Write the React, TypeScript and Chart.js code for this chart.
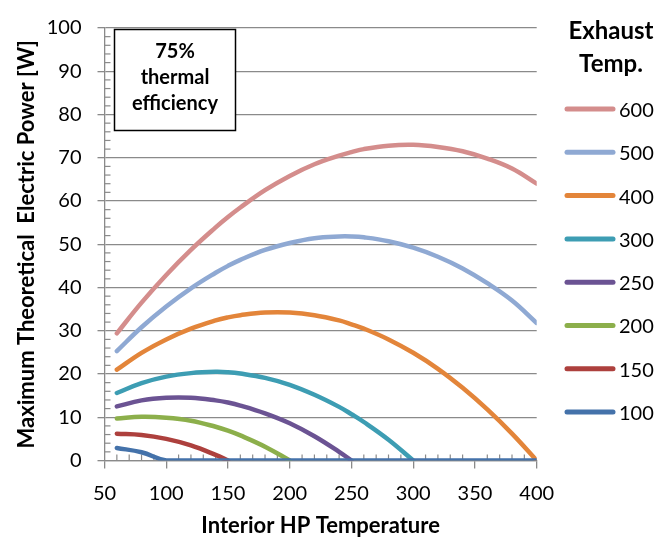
import React, { useEffect, useRef } from "react";
import { Chart, registerables } from "chart.js";

Chart.register(...registerables);

// Interior HP temperature (x) sample points
const temperatures = [60, 80, 100, 120, 140, 150, 160, 180, 200, 220, 240, 250, 260, 280, 300, 320, 340, 360, 380, 400];

// Maximum theoretical electric power [W] per exhaust temperature
const exhaust600 = [29.4, 36.5, 42.9, 48.7, 53.9, 56.3, 58.5, 62.5, 65.8, 68.5, 70.5, 71.3, 72.0, 72.8, 73.0, 72.5, 71.5, 69.8, 67.5, 64.0];
const exhaust500 = [25.3, 30.8, 35.6, 39.8, 43.4, 45.0, 46.4, 48.7, 50.3, 51.4, 51.8, 51.8, 51.6, 50.7, 49.2, 47.1, 44.4, 41.0, 37.0, 31.8];
const exhaust400 = [21.0, 24.9, 28.0, 30.5, 32.4, 33.1, 33.6, 34.2, 34.2, 33.6, 32.4, 31.5, 30.5, 28.0, 24.9, 21.2, 16.8, 11.8, 6.2, 0];
const exhaust300 = [15.6, 17.9, 19.4, 20.2, 20.5, 20.4, 20.1, 19.1, 17.5, 15.2, 12.4, 10.7, 8.9, 4.8, 0, null, null, null, null, null];
const exhaust250 = [12.5, 13.9, 14.5, 14.5, 13.9, 13.4, 12.7, 10.9, 8.6, 5.6, 2.0, 0, null, null, null, null, null, null, null, null];
const exhaust200 = [9.7, 10.1, 9.9, 9.2, 7.8, 6.9, 5.8, 3.2, 0, null, null, null, null, null, null, null, null, null, null, null];
const exhaust150 = [6.2, 5.9, 5.0, 3.5, 1.3, 0, null, null, null, null, null, null, null, null, null, null, null, null, null, null];
const exhaust100 = [2.9, 1.9, 0, 0, 0, 0, 0, 0, 0, 0, 0, 0, 0, 0, 0, 0, 0, 0, 0, 0];

const seriesLabels = ["600", "500", "400", "300", "250", "200", "150", "100"];
const seriesValues = [exhaust600, exhaust500, exhaust400, exhaust300, exhaust250, exhaust200, exhaust150, exhaust100];
const seriesColors = ["#D48D8C", "#8FA9D3", "#E3853A", "#3D9DB3", "#6B5393", "#8CAF4B", "#AD403D", "#4472AA"];

const legendTitle = ["Exhaust", "Temp."];
const boxText = ["75%", "thermal", "efficiency"];
const xTitle = "Interior HP Temperature";
const yTitle = "Maximum Theoretical  Electric Power [W]";

const FONT = "Lato, 'Open Sans', sans-serif";

const decorPlugin = {
  id: "decor",
  beforeDatasetsDraw(chart: any) {
    const { ctx, chartArea: ca, scales } = chart;
    const x = scales.x;
    const y = scales.y;
    ctx.save();
    ctx.strokeStyle = "#8a8a8a";
    ctx.lineWidth = 1.2;
    for (let v = 2; v < 100; v += 2) {
      if (v % 10 === 0) continue;
      const py = y.getPixelForValue(v);
      ctx.beginPath();
      ctx.moveTo(ca.left, py);
      ctx.lineTo(ca.left + 6, py);
      ctx.stroke();
    }
    for (let v = 60; v < 400; v += 10) {
      if (v % 50 === 0) continue;
      const px = x.getPixelForValue(v);
      ctx.beginPath();
      ctx.moveTo(px, ca.bottom);
      ctx.lineTo(px, ca.bottom - 6);
      ctx.stroke();
    }
    ctx.restore();
  },
  afterDraw(chart: any) {
    const { ctx } = chart;
    ctx.save();
    // text box
    ctx.fillStyle = "#fff";
    ctx.fillRect(114.5, 29.5, 121, 101);
    ctx.strokeStyle = "#000";
    ctx.lineWidth = 1.5;
    ctx.strokeRect(114.5, 29.5, 121, 101);
    ctx.fillStyle = "#000";
    ctx.font = `bold 20px ${FONT}`;
    ctx.textAlign = "center";
    ctx.textBaseline = "middle";
    boxText.forEach((t, i) => ctx.fillText(t, 175, 52 + i * 26));

    // legend
    ctx.font = `bold 24px ${FONT}`;
    ctx.fillText(legendTitle[0], 611, 31);
    ctx.fillText(legendTitle[1], 611, 64);
    ctx.font = `20px ${FONT}`;
    ctx.textAlign = "left";
    seriesLabels.forEach((lab, i) => {
      const ly = 109 + i * 43.3;
      ctx.strokeStyle = seriesColors[i];
      ctx.lineWidth = 5;
      ctx.lineCap = "round";
      ctx.beginPath();
      ctx.moveTo(567, ly);
      ctx.lineTo(613, ly);
      ctx.stroke();
      ctx.fillStyle = "#000";
      ctx.fillText(lab, 619, ly + 1.5);
    });
    ctx.restore();
  },
};

export default function App() {
  const ref = useRef<HTMLCanvasElement | null>(null);

  useEffect(() => {
    if (!ref.current) return;
    const datasets = seriesLabels
      .map((lab, i) => ({
        label: lab,
        data: temperatures.map((t, j) => ({ x: t, y: seriesValues[i][j] })),
        borderColor: seriesColors[i],
        backgroundColor: seriesColors[i],
        borderWidth: 4.5,
        borderCapStyle: "round" as const,
        borderJoinStyle: "round" as const,
        pointRadius: 0,
        tension: 0.4,
        fill: false,
        spanGaps: false,
      }))
      .reverse();

    const chart = new Chart(ref.current, {
      type: "line",
      data: { datasets },
      plugins: [decorPlugin],
      options: {
        animation: false,
        responsive: false,
        devicePixelRatio: 1,
        layout: { padding: { left: 0, top: 22.7, right: 135.3, bottom: 0 } },
        plugins: {
          legend: { display: false },
          tooltip: { enabled: false },
        },
        font: { family: FONT },
        scales: {
          x: {
            type: "linear",
            min: 50,
            max: 400,
            ticks: { stepSize: 50, color: "#000", font: { family: FONT, size: 20 }, padding: 13, maxRotation: 0 },
            grid: { drawOnChartArea: false, drawTicks: true, tickLength: 8, color: "#8a8a8a", lineWidth: 1.3 },
            border: { color: "#8a8a8a", width: 1.3 },
            title: {
              display: true,
              text: xTitle,
              color: "#000",
              font: { family: FONT, size: 22, weight: "bold" },
              padding: { top: 0, bottom: -2 },
            },
            afterFit: (s: any) => {
              s.height = 76.5;
            },
          },
          y: {
            min: 0,
            max: 100,
            ticks: { stepSize: 10, color: "#000", font: { family: FONT, size: 20 }, padding: 16 },
            grid: { color: "#8a8a8a", lineWidth: 1.3, tickLength: 7 },
            border: { color: "#8a8a8a", width: 1.3 },
            title: {
              display: true,
              text: yTitle,
              color: "#000",
              font: { family: FONT, size: 22, weight: "bold" },
              padding: { top: 13.8, bottom: 0 },
            },
            afterFit: (s: any) => {
              s.width = 104.5;
            },
          },
        },
      } as any,
    });
    return () => chart.destroy();
  }, []);

  return (
    <div style={{ position: "absolute", left: 0, top: 0, width: 672, height: 537, background: "#fff" }}>
      <canvas ref={ref} width={672} height={537} style={{ display: "block" }} />
    </div>
  );
}
